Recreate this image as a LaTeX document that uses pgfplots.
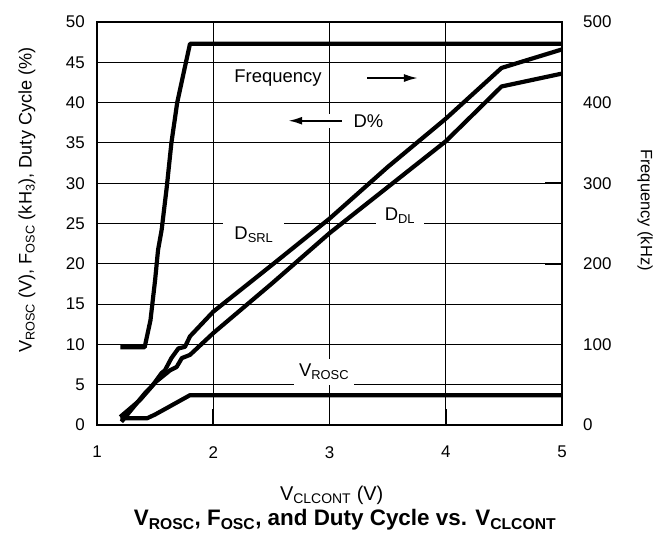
\documentclass[border=0pt]{standalone}
\usepackage{fontspec}
\setmainfont{Liberation Sans}
\usepackage{pgfplots}
\pgfplotsset{compat=1.18}
\usetikzlibrary{arrows.meta}
\pgfplotsset{set layers}

% Frequency (kHz), right axis
\pgfplotstableread{
x y
1.20 96.5
1.41 96.5
1.46 130
1.50 180
1.525 217
1.556 242
1.60 295
1.64 350
1.69 400
1.75 440
1.80 473
5.00 473
}\freq

\begin{document}
\begin{tikzpicture}[font=\fontsize{18.5}{22}\selectfont]
\begin{axis}[
  at={(0,0)}, anchor=south west,
  scale only axis, width=465bp, height=403bp,
  xmin=1, xmax=5, ymin=0, ymax=50,
  xtick={1,2,3,4,5}, ytick={0,5,...,50},
  grid=major, grid style={black, line width=0.9bp},
  axis line style={line width=2bp},
  tick align=inside,
  xtick pos=lower, ytick pos=left,
  major tick length=16bp,
  xtick style={line width=1.6bp, black},
  ytick style={draw=none},
  /pgf/number format/assume math mode=true,
  ticklabel style={font=\fontsize{17}{20}\selectfont, inner sep=0pt},
  yticklabel style={anchor=east, xshift=-12bp},
  xticklabel style={anchor=north, yshift=-21bp},
  clip=false,
]
\begin{pgfonlayer}{axis ticks}
\node[fill=white, inner xsep=7bp, inner ysep=0pt, minimum height=25bp] at (axis cs:2.557,43.1) {Frequency};
\fill[white] (axis cs:2.62,36.9) rectangle (axis cs:3.15,38.6);
\draw[line width=2bp, -{Latex[length=14bp,width=8bp]}] (axis cs:3.323,43.05) -- (axis cs:3.761,43.05);
\draw[line width=2bp, -{Latex[length=14bp,width=8bp]}] (axis cs:3.105,37.75) -- (axis cs:2.645,37.75);
\node at (axis cs:3.335,37.75) {D\%};
\node[fill=white, inner xsep=11bp, inner ysep=0pt, minimum height=28bp] at (axis cs:2.35,23.6) {D\textsubscript{SRL}};
\node[fill=white, inner xsep=9bp, inner ysep=0pt, minimum height=26bp] at (axis cs:3.606,25.95) {D\textsubscript{DL}};
\node[fill=white, inner xsep=5bp, inner ysep=0pt, minimum height=26bp] at (axis cs:2.953,6.6) {V\textsubscript{ROSC}};
\end{pgfonlayer}
% D_SRL
\addplot[black, line width=4.2bp, line join=round] coordinates {
(1.20,1.0) (1.37,3.1) (1.47,4.75) (1.556,6.45) (1.585,6.8) (1.64,8.3)
(1.70,9.5) (1.757,9.7) (1.80,11.0) (2.0,14.06) (2.5,19.8) (3.0,25.6)
(3.5,32.0) (4.0,38.0) (4.48,44.3) (5.0,46.6)};
% D_DL
\addplot[black, line width=4.2bp, line join=round] coordinates {
(1.21,0.4) (1.41,3.9) (1.51,5.4) (1.63,6.8) (1.685,7.2) (1.73,8.3)
(1.80,8.7) (2.0,11.4) (2.5,17.5) (3.0,23.8) (3.5,29.5) (4.0,35.2)
(4.48,42.0) (5.0,43.6)};
% V_ROSC
\addplot[black, line width=4.2bp, line join=round] coordinates {
(1.20,0.83) (1.43,0.83) (1.50,1.3) (1.60,2.1) (1.70,2.9) (1.80,3.7) (5.0,3.7)};
\end{axis}
\begin{axis}[
  at={(0,0)}, anchor=south west,
  scale only axis, width=465bp, height=403bp,
  xmin=1, xmax=5, ymin=0, ymax=500,
  axis y line*=right, axis x line=none,
  ytick={0,100,...,500},
  tick align=inside, major tick length=17bp,
  ytick style={line width=1.6bp, black},
  axis line style={line width=2bp},
  /pgf/number format/assume math mode=true,
  ticklabel style={font=\fontsize{17}{20}\selectfont, inner sep=0pt},
  yticklabel style={anchor=west, xshift=21bp},
]
\addplot[black, line width=4.2bp, line join=round] table[x=x,y=y] {\freq};
\end{axis}
\node[rotate=90, font=\fontsize{18.2}{21}\selectfont] at (-70bp,225bp) {V\textsubscript{ROSC} (V), F\textsubscript{OSC} (kH\textsubscript{3}), Duty Cycle (\%)};
\node[rotate=-90, font=\fontsize{16.5}{19}\selectfont] at (548bp,215bp) {Frequency (kHz)};
\node[font=\fontsize{20}{24}\selectfont] at (234.7bp,-70bp) {V\textsubscript{CLCONT} (V)};
\node[font=\fontsize{22.5}{26}\selectfont\bfseries] at (248bp,-95bp) {V\textsubscript{ROSC}, F\textsubscript{OSC}, and Duty Cycle vs. V\textsubscript{CLCONT}};
\pgfresetboundingbox
\path (-97bp,-113bp) rectangle (571bp,425bp);
\end{tikzpicture}
\end{document}
